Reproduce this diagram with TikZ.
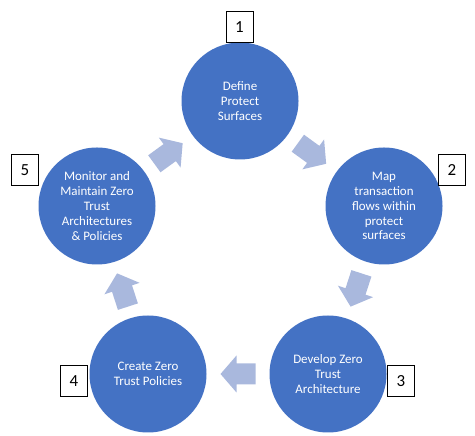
\documentclass[tikz,border=0pt]{standalone}
\usepackage{fontspec}
\setmainfont{Carlito}
\usepackage{tikz}
\usetikzlibrary{calc}

\definecolor{stageblue}{HTML}{4472C4}
\definecolor{flowblue}{HTML}{A9B8DD}

\begin{document}
\begin{tikzpicture}[x=1bp, y=1bp,
    stage/.style={circle, fill=stageblue, minimum size=117bp, inner sep=0pt, align=center, text=white, font=\fontsize{13}{15}\selectfont},
    numbox/.style={draw=black, line width=0.8bp, fill=white, minimum width=27bp, minimum height=31bp, inner sep=0pt, font=\fontsize{17}{18}\selectfont},
    flowarrow/.pic={\fill[flowblue] (-17.5, -10.5) -- (1.5, -10.5) -- (1.5, -18.5) -- (17.5, 0) -- (1.5, 18.5) -- (1.5, 10.5) -- (-17.5, 10.5) -- cycle;}]
    \useasboundingbox (0, 0) rectangle (475, 436);

    \node[stage] (define) at (240, 335) {Define\\Protect\\Surfaces};
    \node[stage] (map) at (384, 230) {Map\\transaction\\flows within\\protect\\surfaces};
    \node[stage] (develop) at (328, 62) {Develop Zero\\Trust\\Architecture};
    \node[stage] (create) at (148, 62) {Create Zero\\Trust Policies};
    \node[stage] (monitor) at (97, 230) {Monitor and\\Maintain Zero\\Trust\\Architectures\\\& Policies};

    % arrows sit halfway between two stages
    \pic[rotate=-36] (a12) at ($(define)!0.5!(map)$) {flowarrow};
    \pic[rotate=-108] (a23) at ($(map)!0.5!(develop)$) {flowarrow};
    \pic[rotate=180] (a34) at ($(develop)!0.5!(create)$) {flowarrow};
    \pic[rotate=108] (a45) at ($(create)!0.5!(monitor)$) {flowarrow};
    \pic[rotate=36] (a51) at ($(monitor)!0.5!(define)$) {flowarrow};

    \node[numbox] (n1) at (239.5, 409) {1};
    \node[numbox] (n2) at (452, 266) {2};
    \node[numbox] (n3) at (401, 55) {3};
    \node[numbox] (n4) at (74, 55) {4};
    \node[numbox] (n5) at (25, 266) {5};
\end{tikzpicture}
\end{document}
